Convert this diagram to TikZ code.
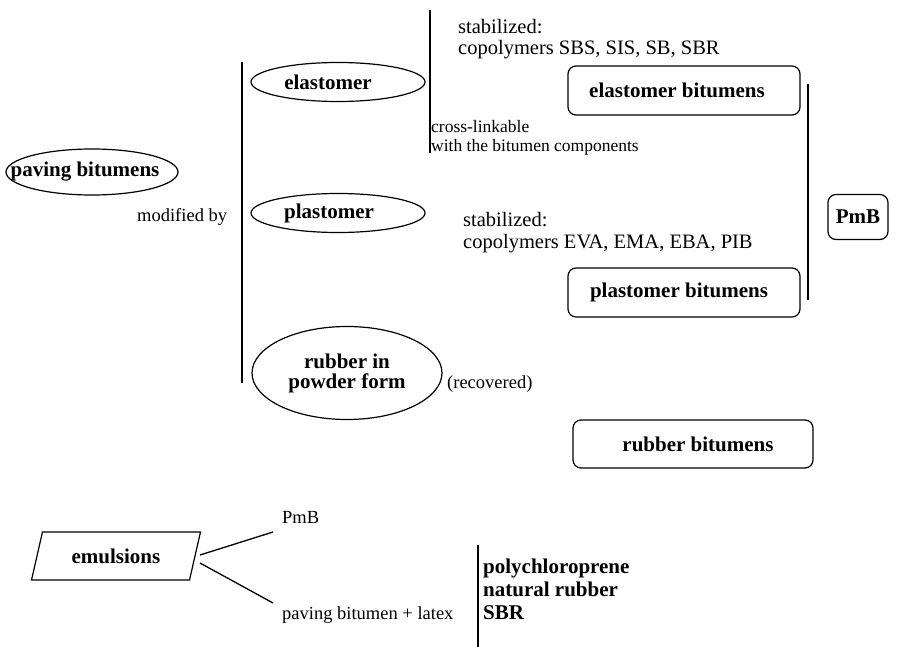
\documentclass[tikz,border=0pt]{standalone}
\usepackage{fontspec}
\setmainfont{Liberation Serif}
\usetikzlibrary{shapes.geometric}
\newcommand\shtxt[2]{\makebox[0pt]{\kern#1\relax #2}}
\tikzset{
  bfbig/.style={font=\fontsize{21}{23}\selectfont\bfseries},
  ell/.style={ellipse, draw, line width=1.2pt, inner sep=0pt, bfbig},
  rbox/.style={rectangle, rounded corners=8pt, draw, line width=1.2pt, inner sep=0pt, bfbig},
  para/.style={trapezium, trapezium left angle=66, trapezium right angle=114, trapezium stretches=true, draw, line width=1.2pt, inner sep=0pt, bfbig},
  bar/.style={line width=1.3pt},
  conn/.style={line width=1.3pt},
  tmid/.style={font=\fontsize{20.5}{22}\selectfont, inner sep=0pt, anchor=base west},
  tsmall/.style={font=\fontsize{17.5}{20}\selectfont, inner sep=0pt, anchor=base west},
  tlow/.style={font=\fontsize{18.5}{20}\selectfont, inner sep=0pt, anchor=base west},
  tbl/.style={font=\fontsize{21}{23}\selectfont\bfseries, inner sep=0pt, anchor=base west},
}
\begin{document}
\begin{tikzpicture}[x=1pt,y=-1pt]
\useasboundingbox (0,0) rectangle (900,647);
% ellipses
\node[ell, minimum width=172pt, minimum height=46pt] (paving) at (92,172) {\shtxt{-14pt}{paving bitumens}};
\node[ell, minimum width=174pt, minimum height=39pt] (elast) at (338,82) {\shtxt{-20pt}{elastomer}};
\node[ell, minimum width=174pt, minimum height=39pt] (plast) at (338,213) {\shtxt{-18pt}{plastomer}};
\node[ell, minimum width=190pt, minimum height=93pt] (rubber) at (347,373) {\makebox[0pt]{\shortstack{rubber in\\[2pt]powder form}}};
% boxes
\node[rbox, minimum width=232pt, minimum height=49pt] (elbit) at (684,90.5) {\shtxt{-14pt}{elastomer bitumens}};
\node[rbox, minimum width=232pt, minimum height=49pt] (plbit) at (684,292.5) {\shtxt{-10pt}{plastomer bitumens}};
\node[rbox, minimum width=240pt, minimum height=48pt] (rubit) at (693,444) {\shtxt{10pt}{rubber bitumens}};
\node[rbox, minimum width=60pt, minimum height=45pt] (pmbbox) at (858,217) {PmB};
% parallelogram
\node[para, minimum width=169pt, minimum height=48pt] (emul) at (116,556) {emulsions};
% texts
\node[tlow] (modby) at (137,222) {modified by};
\node[tmid] (stab1) at (458,34) {stabilized:};
\node[tmid] (cop1) at (458,55) {copolymers SBS, SIS, SB, SBR};
\node[tsmall] (cross1) at (431,133) {cross-linkable};
\node[tsmall] (cross2) at (431,152) {with the bitumen components};
\node[tmid] (stab2) at (463,227) {stabilized:};
\node[tmid] (cop2) at (463,249) {copolymers EVA, EMA, EBA, PIB};
\node[tlow] (recov) at (447,388) {(recovered)};
\node[tlow] (pmbt) at (282,523) {PmB};
\node[tlow] (pbl) at (282,619) {paving bitumen + latex};
\node[tbl] (poly) at (483,573) {polychloroprene};
\node[tbl] (natr) at (483,596) {natural rubber};
\node[tbl] (sbr) at (483,619) {SBR};
% bars
\coordinate (b1t) at (242,62); \coordinate (b1b) at (242,383);
\coordinate (b2t) at (430,10); \coordinate (b2b) at (430,153);
\coordinate (b3t) at (808,84); \coordinate (b3b) at (808,300);
\coordinate (b4t) at (478,545); \coordinate (b4b) at (478,647);
\draw[bar] (b1t) -- (b1b);
\draw[bar] (b2t) -- (b2b);
\draw[bar] (b3t) -- (b3b);
\draw[bar] (b4t) -- (b4b);
% emulsion connectors
\coordinate (e1) at (200,555); \coordinate (e2) at (200,563);
\coordinate (p1) at (273,532); \coordinate (p2) at (273,603);
\draw[conn] (e1) -- (p1);
\draw[conn] (e2) -- (p2);
\end{tikzpicture}
\end{document}
